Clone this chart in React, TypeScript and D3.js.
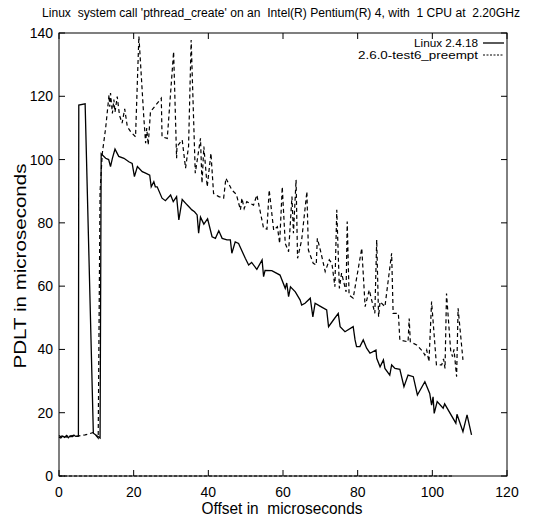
import React from 'react';
import * as d3 from 'd3';

const titleText = "Linux  system call 'pthread_create' on an  Intel(R) Pentium(R) 4, with  1 CPU at  2.20GHz";
const xLabel = 'Offset in  microseconds';
const yLabel = 'PDLT in microseconds';
const seriesNames = ['Linux 2.4.18', '2.6.0-test6_preempt'];

const xTicks = [0, 20, 40, 60, 80, 100, 120];
const yTicks = [0, 20, 40, 60, 80, 100, 120, 140];

const solidX = [0, 0.5, 1, 1.5, 2, 2.5, 3, 3.5, 4, 4.5, 5.2, 5.3, 7.0, 9.2, 11.0, 11.3, 12.5, 13.3, 13.8, 14.3, 15.0, 16.0, 17.4, 18.7, 19.6, 20.2, 21.0, 22.3, 23.2, 24.3, 24.7, 25.4, 25.8, 26.3, 27.6, 28.5, 29.9, 30.6, 31.5, 32.1, 33.0, 34.3, 35.6, 36.3, 37.0, 37.4, 37.9, 38.8, 39.8, 41.0, 41.9, 42.8, 43.7, 45.0, 45.9, 46.3, 47.2, 48.1, 49.9, 50.8, 51.6, 53.0, 54.4, 54.8, 55.2, 57.0, 59.2, 60.6, 61.0, 61.5, 62.0, 63.3, 64.6, 65.0, 65.9, 67.3, 68.0, 68.6, 69.9, 71.7, 72.2, 73.5, 74.8, 75.3, 76.6, 78.8, 79.3, 79.7, 80.6, 81.5, 82.4, 83.3, 84.9, 85.1, 86.0, 86.9, 87.3, 88.6, 89.1, 90.0, 91.3, 92.4, 93.5, 94.9, 96.0, 98.0, 99.3, 99.8, 100.2, 100.5, 101.3, 102.9, 103.3, 106.3, 106.6, 108.2, 109.3, 110.5];
const solidY = [12.3, 12.0, 12.6, 12.2, 12.8, 12.1, 12.7, 12.4, 12.9, 12.5, 12.6, 117.2, 117.6, 13.5, 12.0, 101.8, 100.4, 100.0, 97.8, 100.4, 103.3, 101.0, 100.4, 99.3, 98.8, 94.6, 97.8, 96.2, 95.7, 95.1, 91.4, 93.0, 91.4, 91.4, 87.8, 87.0, 88.8, 86.7, 88.3, 80.9, 87.4, 85.7, 84.1, 83.5, 82.5, 76.7, 81.8, 79.6, 81.3, 75.6, 75.1, 77.5, 75.1, 74.6, 74.6, 70.4, 74.0, 73.5, 68.8, 66.7, 67.5, 65.3, 68.3, 63.0, 65.0, 64.9, 63.5, 59.3, 61.0, 56.7, 59.8, 58.2, 55.6, 54.0, 54.6, 56.2, 50.3, 54.6, 53.7, 52.5, 47.2, 49.3, 51.4, 47.2, 45.6, 47.2, 43.0, 40.9, 40.9, 43.0, 40.4, 38.8, 39.8, 37.2, 34.5, 36.7, 34.0, 31.9, 35.1, 34.0, 33.7, 28.2, 31.9, 31.4, 25.6, 29.8, 26.1, 22.4, 25.0, 19.8, 23.5, 21.4, 22.8, 16.7, 19.5, 14.0, 19.3, 13.0];

const dashX = [0, 0.5, 1, 1.5, 2, 2.5, 3, 3.5, 4, 4.5, 5, 6, 7, 8, 9.2, 10.5, 11.0, 11.6, 12.5, 13.4, 13.6, 13.8, 14.3, 14.7, 15.0, 15.6, 16.2, 16.9, 17.6, 18.3, 19.2, 20.5, 21.4, 22.7, 23.2, 23.5, 23.9, 24.5, 27.4, 27.6, 29.0, 30.7, 31.5, 31.6, 33.0, 33.9, 34.7, 35.4, 36.5, 37.9, 38.3, 38.8, 39.7, 40.7, 41.4, 42.8, 44.1, 44.7, 46.3, 47.5, 48.6, 49.0, 49.6, 50.3, 52.1, 53.0, 54.8, 55.7, 56.3, 57.5, 58.5, 59.1, 59.8, 60.6, 61.5, 62.4, 62.8, 63.5, 63.9, 65.0, 66.4, 66.8, 68.1, 68.9, 69.2, 70.1, 71.3, 72.4, 73.1, 73.9, 74.4, 75.1, 75.7, 76.9, 77.2, 77.7, 78.8, 81.1, 82.0, 83.1, 84.6, 85.1, 85.6, 86.0, 87.3, 89.1, 89.5, 90.9, 91.3, 93.5, 93.8, 94.1, 95.8, 97.5, 98.0, 98.5, 99.1, 99.8, 101.1, 102.5, 103.0, 103.4, 103.8, 104.9, 105.4, 105.8, 106.5, 106.9, 108.2];
const dashY = [12.8, 12.4, 12.9, 12.5, 12.3, 12.9, 12.4, 12.8, 12.5, 12.7, 12.6, 12.8, 13.0, 13.3, 13.8, 12.0, 90, 102, 110, 120.4, 116.7, 121, 114.6, 119, 115, 119.9, 114, 111.5, 116, 110.4, 108.8, 107.2, 139, 113.6, 105.2, 110, 104.6, 115.1, 119.4, 107.2, 106.7, 134.1, 100.4, 104.1, 106.2, 97.3, 104.1, 137.8, 95.7, 106.7, 92.5, 104.1, 91.4, 102, 89.3, 88.3, 87.8, 94.1, 90.4, 89, 84.1, 87.8, 84.5, 86.7, 85.6, 88.8, 78.3, 78.0, 90.4, 77.7, 78.8, 73.5, 91.4, 73.5, 70.9, 88.3, 76.7, 93.6, 68.8, 74.6, 89.9, 71.4, 67.2, 66.7, 75.1, 70.9, 64.6, 68.3, 67.2, 59.8, 84.1, 59.3, 64.1, 58.2, 80.4, 57.2, 56.2, 72.0, 53.5, 58.8, 51.4, 74.6, 50.3, 55.1, 53.5, 70.4, 51.4, 51.4, 43.0, 42.4, 49.8, 42.4, 41.4, 39.3, 38.2, 39.8, 36.1, 55.1, 35.1, 35.1, 37, 34.0, 57.7, 39.8, 37.7, 40, 31.4, 53.0, 36.7];

const zeroX = [0, 105.6];
const zeroY = [0, 0];

const W = 542;
const H = 523;
const M = { left: 59, right: 507, top: 33, bottom: 476 };
const FONT = "'Liberation Sans Narrow', 'Liberation Sans', Arial, sans-serif";

export default function App() {
  const x = d3.scaleLinear().domain([0, 120]).range([M.left, M.right]);
  const y = d3.scaleLinear().domain([0, 140]).range([M.bottom, M.top]);
  const line = d3
    .line<[number, number]>()
    .x((d) => x(d[0]))
    .y((d) => y(d[1]));
  const solid = line(solidX.map((v, i) => [v, solidY[i]] as [number, number])) || '';
  const dashed = line(dashX.map((v, i) => [v, dashY[i]] as [number, number])) || '';
  const zero = line(zeroX.map((v, i) => [v, zeroY[i]] as [number, number])) || '';
  const tl = 6;

  return (
    <svg
      width={W}
      height={H}
      style={{ position: 'absolute', left: 0, top: 0, background: '#fff' }}
      fontFamily={FONT}
    >
      <rect x={0} y={0} width={W} height={H} fill="#fff" />
      <text
        x={281}
        y={17}
        fontSize={12}
        textAnchor="middle"
        textLength={478}
        lengthAdjust="spacingAndGlyphs"
        style={{ whiteSpace: 'pre' }}
      >
        {titleText}
      </text>

      {xTicks.map((t) => (
        <g key={'x' + t}>
          <line x1={x(t)} x2={x(t)} y1={M.bottom} y2={M.bottom - tl} stroke="#000" strokeWidth={1} />
          <line x1={x(t)} x2={x(t)} y1={M.top} y2={M.top + tl} stroke="#000" strokeWidth={1} />
          <text x={x(t)} y={497} fontSize={14} textAnchor="middle">
            {t}
          </text>
        </g>
      ))}
      {yTicks.map((t) => (
        <g key={'y' + t}>
          <line x1={M.left} x2={M.left + tl} y1={y(t)} y2={y(t)} stroke="#000" strokeWidth={1} />
          <line x1={M.right} x2={M.right - tl} y1={y(t)} y2={y(t)} stroke="#000" strokeWidth={1} />
          <text x={53} y={y(t) + 5} fontSize={14} textAnchor="end">
            {t}
          </text>
        </g>
      ))}

      <rect
        x={M.left}
        y={M.top}
        width={M.right - M.left}
        height={M.bottom - M.top}
        fill="none"
        stroke="#000"
        strokeWidth={1}
      />

      <path d={zero} fill="none" stroke="#000" strokeWidth={1} strokeDasharray="3,2" />
      <path d={dashed} fill="none" stroke="#000" strokeWidth={1.2} strokeDasharray="4,3" />
      <path d={solid} fill="none" stroke="#000" strokeWidth={1.3} strokeLinejoin="miter" />

      <text x={478} y={47} fontSize={11} textAnchor="end" textLength={64} lengthAdjust="spacingAndGlyphs">
        {seriesNames[0]}
      </text>
      <line x1={483} x2={504} y1={43} y2={43} stroke="#000" strokeWidth={1.3} />
      <text x={478} y={59} fontSize={11} textAnchor="end" textLength={120} lengthAdjust="spacingAndGlyphs">
        {seriesNames[1]}
      </text>
      <line x1={483} x2={504} y1={55} y2={55} stroke="#000" strokeWidth={1} strokeDasharray="2,1.5" />

      <text
        x={282}
        y={514}
        fontSize={17}
        textAnchor="middle"
        textLength={161}
        lengthAdjust="spacingAndGlyphs"
        style={{ whiteSpace: 'pre' }}
      >
        {xLabel}
      </text>
      <text
        transform="translate(26,266) rotate(-90)"
        fontSize={17}
        textAnchor="middle"
        textLength={205}
        lengthAdjust="spacingAndGlyphs"
      >
        {yLabel}
      </text>
    </svg>
  );
}
